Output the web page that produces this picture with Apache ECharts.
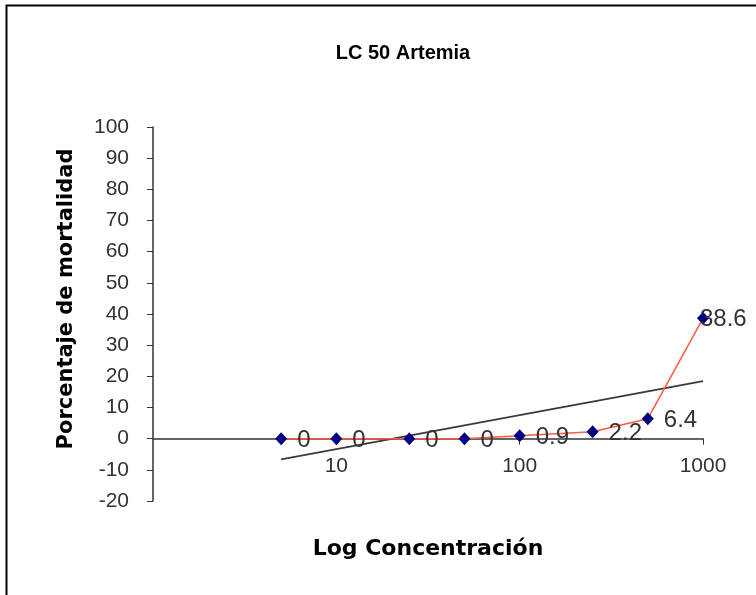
<!DOCTYPE html>
<html><head><meta charset="utf-8">
<script src="https://cdn.jsdelivr.net/npm/echarts@6/dist/echarts.min.js"></script>
<style>html,body{margin:0;padding:0;background:#fff}#c{width:756px;height:595px}</style>
</head><body><div id="c"></div>
<script>
var concentrations = [5, 10, 25, 50, 100, 250, 500, 1000];
var mortality = [0, 0, 0, 0, 0.9, 2.2, 6.4, 38.6];
var yTicks = [-20, -10, 0, 10, 20, 30, 40, 50, 60, 70, 80, 90, 100];
var xTicks = [10, 100, 1000];

// logarithmic trendline y = a*ln(x) + b (least squares)
var n = concentrations.length, sl = 0, sy = 0;
concentrations.forEach(function (x, i) { sl += Math.log(x); sy += mortality[i]; });
var ml = sl / n, my = sy / n, sxy = 0, sxx = 0;
concentrations.forEach(function (x, i) { var d = Math.log(x) - ml; sxy += d * mortality[i]; sxx += d * d; });
var a = sxy / sxx, b = my - a * ml;
var trend = concentrations.map(function (x) { return [x, a * Math.log(x) + b]; });

var chart = echarts.init(document.getElementById('c'));
var lastIdx = mortality.length - 1;
chart.setOption({
  animation: false,
  backgroundColor: '#fff',
  title: {
    text: 'LC 50 Artemia', left: 398, top: 38, textAlign: 'center',
    textStyle: { fontFamily: 'Liberation Sans, Arial, sans-serif', fontSize: 20, fontWeight: 'bold', color: '#000' }
  },
  graphic: [{
    type: 'polyline', silent: true,
    shape: { points: [[6.5, 600], [6.5, 5.5], [760, 5.5]] },
    style: { stroke: '#000', lineWidth: 2, fill: null }
  }],
  grid: { left: 153, right: 53, top: 127, bottom: 94, outerBoundsMode: 'none', containLabel: false },
  xAxis: {
    type: 'log', logBase: 10, min: 1, max: 1000,
    name: 'Log Concentración', nameLocation: 'middle', nameGap: 37,
    nameTextStyle: { fontFamily: 'DejaVu Sans, Arial, sans-serif', fontSize: 22, fontWeight: 'bold', color: '#000' },
    axisLine: { onZero: true, lineStyle: { color: '#333', width: 1.5 } },
    axisTick: { show: true, length: 6, lineStyle: { color: '#333' }, customValues: xTicks },
    axisLabel: {
      fontFamily: 'Liberation Sans, Arial, sans-serif', fontSize: 21, color: '#333', margin: -45,
      customValues: xTicks,
      formatter: function (v) { return String(Math.round(v)); }
    },
    splitLine: { show: false }, minorTick: { show: false }
  },
  yAxis: {
    type: 'value', min: -20, max: 100, interval: 10,
    name: 'Porcentaje de mortalidad', nameLocation: 'middle', nameGap: 76,
    nameTextStyle: { fontFamily: 'DejaVu Sans, Arial, sans-serif', fontSize: 21, fontWeight: 'bold', color: '#000', padding: [0, 0, 0, 30] },
    axisLine: { show: true, lineStyle: { color: '#333', width: 1.5 } },
    axisTick: { show: true, length: 6, lineStyle: { color: '#333' } },
    axisLabel: {
      fontFamily: 'Liberation Sans, Arial, sans-serif', fontSize: 21, color: '#333', margin: 24,
      customValues: yTicks
    },
    splitLine: { show: false }
  },
  series: [{
    type: 'line', name: 'Trend', data: trend, symbol: 'none', silent: true,
    lineStyle: { color: '#3a3a3a', width: 1.8 }, z: 2
  }, {
    type: 'line', name: 'Mortalidad',
    data: concentrations.map(function (x, i) {
      var d = { value: [x, mortality[i]] };
      if (i === lastIdx) d.label = { offset: [-19, 1] };
      return d;
    }),
    symbol: 'diamond', symbolSize: [12, 13],
    itemStyle: { color: '#000080' },
    lineStyle: { color: '#ff5a40', width: 1.5 },
    label: {
      show: true, position: 'right', distance: 10, offset: [0, 2],
      fontFamily: 'Liberation Sans, Arial, sans-serif', fontSize: 24, color: '#333',
      formatter: function (p) { return String(p.value[1]); }
    },
    z: 3
  }]
});
</script></body></html>
